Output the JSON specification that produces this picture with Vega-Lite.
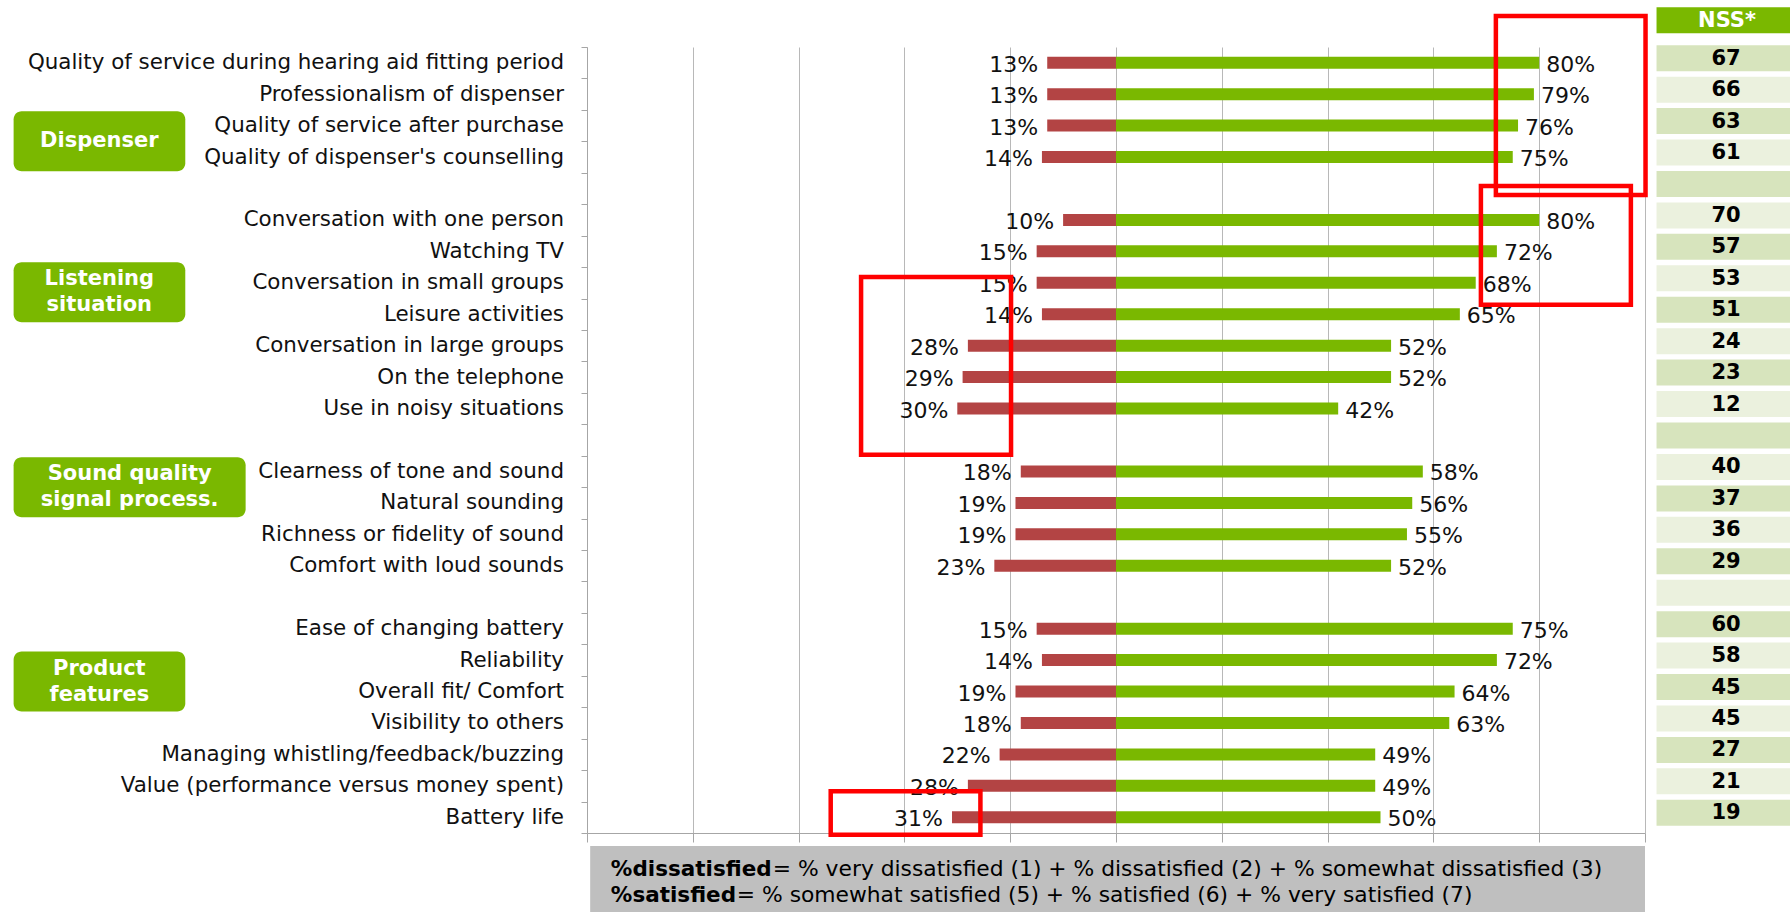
{
  "$schema": "https://vega.github.io/schema/vega-lite/v6.json",
  "width": 1058,
  "height": 786,
  "autosize": {"type": "none"},
  "padding": {"left": 587, "top": 47, "right": 145, "bottom": 79},
  "background": "white",
  "config": {"view": {"stroke": null}, "font": "DejaVu Sans"},
  "datasets": {
    "rows": [
      {"item": "Quality of service during hearing aid fitting period", "dissatisfied": 0.13, "satisfied": 0.80, "nss": 67},
      {"item": "Professionalism of dispenser", "dissatisfied": 0.13, "satisfied": 0.79, "nss": 66},
      {"item": "Quality of service after purchase", "dissatisfied": 0.13, "satisfied": 0.76, "nss": 63},
      {"item": "Quality of dispenser's counselling", "dissatisfied": 0.14, "satisfied": 0.75, "nss": 61},
      {"item": "gap1"},
      {"item": "Conversation with one person", "dissatisfied": 0.10, "satisfied": 0.80, "nss": 70},
      {"item": "Watching TV", "dissatisfied": 0.15, "satisfied": 0.72, "nss": 57},
      {"item": "Conversation in small groups", "dissatisfied": 0.15, "satisfied": 0.68, "nss": 53},
      {"item": "Leisure activities", "dissatisfied": 0.14, "satisfied": 0.65, "nss": 51},
      {"item": "Conversation in large groups", "dissatisfied": 0.28, "satisfied": 0.52, "nss": 24},
      {"item": "On the telephone", "dissatisfied": 0.29, "satisfied": 0.52, "nss": 23},
      {"item": "Use in noisy situations", "dissatisfied": 0.30, "satisfied": 0.42, "nss": 12},
      {"item": "gap2"},
      {"item": "Clearness of tone and sound", "dissatisfied": 0.18, "satisfied": 0.58, "nss": 40},
      {"item": "Natural sounding", "dissatisfied": 0.19, "satisfied": 0.56, "nss": 37},
      {"item": "Richness or fidelity of sound", "dissatisfied": 0.19, "satisfied": 0.55, "nss": 36},
      {"item": "Comfort with loud sounds", "dissatisfied": 0.23, "satisfied": 0.52, "nss": 29},
      {"item": "gap3"},
      {"item": "Ease of changing battery", "dissatisfied": 0.15, "satisfied": 0.75, "nss": 60},
      {"item": "Reliability", "dissatisfied": 0.14, "satisfied": 0.72, "nss": 58},
      {"item": "Overall fit/ Comfort", "dissatisfied": 0.19, "satisfied": 0.64, "nss": 45},
      {"item": "Visibility to others", "dissatisfied": 0.18, "satisfied": 0.63, "nss": 45},
      {"item": "Managing whistling/feedback/buzzing", "dissatisfied": 0.22, "satisfied": 0.49, "nss": 27},
      {"item": "Value (performance versus money spent)", "dissatisfied": 0.28, "satisfied": 0.49, "nss": 21},
      {"item": "Battery life", "dissatisfied": 0.31, "satisfied": 0.50, "nss": 19}
    ],
    "groups": [
      {"item": "Quality of service after purchase", "group": "Dispenser", "lines": ["Dispenser"]},
      {"item": "Conversation in small groups", "group": "Listening situation", "lines": ["Listening", "situation"]},
      {"item": "Clearness of tone and sound", "group": "Sound quality signal process.", "lines": ["Sound quality", "signal process."]},
      {"item": "Reliability", "group": "Product features", "lines": ["Product", "features"]}
    ]
  },
  "data": {"name": "rows"},
  "encoding": {
    "y": {
      "field": "item",
      "type": "nominal",
      "scale": {
        "type": "band",
        "paddingInner": 0,
        "paddingOuter": 0,
        "domain": ["Quality of service during hearing aid fitting period", "Professionalism of dispenser", "Quality of service after purchase", "Quality of dispenser's counselling", "gap1", "Conversation with one person", "Watching TV", "Conversation in small groups", "Leisure activities", "Conversation in large groups", "On the telephone", "Use in noisy situations", "gap2", "Clearness of tone and sound", "Natural sounding", "Richness or fidelity of sound", "Comfort with loud sounds", "gap3", "Ease of changing battery", "Reliability", "Overall fit/ Comfort", "Visibility to others", "Managing whistling/feedback/buzzing", "Value (performance versus money spent)", "Battery life"]
      },
      "axis": {
        "title": null,
        "labelExpr": "isString(datum.value) && indexof(datum.value, 'gap') === 0 ? '' : datum.value",
        "labelFontSize": 21.4,
        "labelColor": "#111111",
        "labelPadding": 17.5,
        "labelLimit": 800,
        "tickBand": "extent",
        "tickSize": 6,
        "tickColor": "#a6a6a6",
        "domainColor": "#a6a6a6",
        "grid": false
      }
    }
  },
  "layer": [
    {
      "mark": {"type": "bar", "color": "#b34444", "size": 12},
      "encoding": {
        "x": {"field": "dissatisfied", "type": "quantitative", "scale": {"domain": [-1, 1], "reverse": true}, "axis": null}
      }
    },
    {
      "mark": {"type": "text", "align": "right", "baseline": "middle", "dx": -9, "dy": 2, "fontSize": 22, "color": "#111111"},
      "encoding": {
        "x": {"field": "dissatisfied", "type": "quantitative", "scale": {"domain": [-1, 1], "reverse": true}, "axis": null},
        "text": {"field": "dissatisfied", "type": "quantitative", "format": ".0%"}
      }
    },
    {
      "mark": {"type": "bar", "color": "#7ab800", "size": 12},
      "encoding": {
        "x": {
          "field": "satisfied",
          "type": "quantitative",
          "scale": {"domain": [-1, 1]},
          "axis": {
            "orient": "bottom",
            "title": null,
            "labels": false,
            "values": [-1, -0.8, -0.6, -0.4, -0.2, 0, 0.2, 0.4, 0.6, 0.8, 1],
            "grid": true,
            "gridColor": "#b8b8b8",
            "domainColor": "#a6a6a6",
            "tickColor": "#a6a6a6",
            "tickSize": 9
          }
        }
      }
    },
    {
      "mark": {"type": "text", "align": "left", "baseline": "middle", "dx": 7, "dy": 2, "fontSize": 22, "color": "#111111"},
      "encoding": {
        "x": {"field": "satisfied", "type": "quantitative", "scale": {"domain": [-1, 1]}, "axis": null},
        "text": {"field": "satisfied", "type": "quantitative", "format": ".0%"}
      }
    },
    {
      "mark": {"type": "bar", "size": 26, "yOffset": -4.5},
      "encoding": {
        "x": {"datum": 1.0218, "type": "quantitative", "scale": {"domain": [-1, 1]}, "axis": null},
        "x2": {"datum": 1.3},
        "color": {
          "field": "item",
          "type": "nominal",
          "legend": null,
          "scale": {
            "domain": ["Quality of service during hearing aid fitting period", "Professionalism of dispenser", "Quality of service after purchase", "Quality of dispenser's counselling", "gap1", "Conversation with one person", "Watching TV", "Conversation in small groups", "Leisure activities", "Conversation in large groups", "On the telephone", "Use in noisy situations", "gap2", "Clearness of tone and sound", "Natural sounding", "Richness or fidelity of sound", "Comfort with loud sounds", "gap3", "Ease of changing battery", "Reliability", "Overall fit/ Comfort", "Visibility to others", "Managing whistling/feedback/buzzing", "Value (performance versus money spent)", "Battery life"],
            "range": ["#d7e4bd", "#ebf1de", "#d7e4bd", "#ebf1de", "#d7e4bd", "#ebf1de", "#d7e4bd", "#ebf1de", "#d7e4bd", "#ebf1de", "#d7e4bd", "#ebf1de", "#d7e4bd", "#ebf1de", "#d7e4bd", "#ebf1de", "#d7e4bd", "#ebf1de", "#d7e4bd", "#ebf1de", "#d7e4bd", "#ebf1de", "#d7e4bd", "#ebf1de", "#d7e4bd"]
          }
        }
      }
    },
    {
      "transform": [{"filter": "isValid(datum.nss)"}],
      "mark": {"type": "text", "align": "center", "baseline": "middle", "dy": -4, "fontSize": 21, "fontWeight": "bold", "color": "#000000"},
      "encoding": {
        "x": {"datum": 1.1533, "type": "quantitative", "scale": {"domain": [-1, 1]}, "axis": null},
        "text": {"field": "nss", "type": "quantitative"}
      }
    },
    {
      "data": {"values": [{"item": "Quality of service during hearing aid fitting period"}]},
      "mark": {"type": "bar", "size": 26, "yOffset": -42.4, "color": "#7ab800"},
      "encoding": {
        "x": {"datum": 1.0218, "type": "quantitative", "scale": {"domain": [-1, 1]}, "axis": null},
        "x2": {"datum": 1.3}
      }
    },
    {
      "data": {"values": [{"item": "Quality of service during hearing aid fitting period"}]},
      "mark": {"type": "text", "align": "center", "baseline": "middle", "dy": -42, "fontSize": 21, "fontWeight": "bold", "color": "#ffffff"},
      "encoding": {
        "x": {"datum": 1.155, "type": "quantitative", "scale": {"domain": [-1, 1]}, "axis": null},
        "text": {"value": "NSS*"}
      }
    },
    {
      "data": {"name": "groups"},
      "transform": [{"filter": "datum.group === 'Dispenser'"}],
      "mark": {"type": "bar", "color": "#7ab800", "cornerRadius": 8, "size": 60, "yOffset": 15.7},
      "encoding": {
        "x": {"datum": -2.0839, "type": "quantitative", "scale": {"domain": [-1, 1]}, "axis": null},
        "x2": {"datum": -1.7594}
      }
    },
    {
      "data": {"name": "groups"},
      "transform": [{"filter": "datum.group === 'Listening situation'"}],
      "mark": {"type": "bar", "color": "#7ab800", "cornerRadius": 8, "size": 60, "yOffset": 9.4},
      "encoding": {
        "x": {"datum": -2.0839, "type": "quantitative", "scale": {"domain": [-1, 1]}, "axis": null},
        "x2": {"datum": -1.7594}
      }
    },
    {
      "data": {"name": "groups"},
      "transform": [{"filter": "datum.group === 'Sound quality signal process.'"}],
      "mark": {"type": "bar", "color": "#7ab800", "cornerRadius": 8, "size": 60, "yOffset": 15.7},
      "encoding": {
        "x": {"datum": -2.0839, "type": "quantitative", "scale": {"domain": [-1, 1]}, "axis": null},
        "x2": {"datum": -1.6453}
      }
    },
    {
      "data": {"name": "groups"},
      "transform": [{"filter": "datum.group === 'Product features'"}],
      "mark": {"type": "bar", "color": "#7ab800", "cornerRadius": 8, "size": 60, "yOffset": 21.5},
      "encoding": {
        "x": {"datum": -2.0839, "type": "quantitative", "scale": {"domain": [-1, 1]}, "axis": null},
        "x2": {"datum": -1.7594}
      }
    },
    {
      "data": {"name": "groups"},
      "transform": [{"filter": "datum.group === 'Dispenser'"}],
      "mark": {"type": "text", "align": "center", "baseline": "middle", "dy": 15.7, "fontSize": 21, "fontWeight": "bold", "color": "#ffffff", "lineHeight": 26},
      "encoding": {
        "x": {"datum": -1.9219, "type": "quantitative", "scale": {"domain": [-1, 1]}, "axis": null},
        "text": {"field": "lines", "type": "nominal"}
      }
    },
    {
      "data": {"name": "groups"},
      "transform": [{"filter": "datum.group === 'Listening situation'"}],
      "mark": {"type": "text", "align": "center", "baseline": "middle", "dy": -3.6, "fontSize": 21, "fontWeight": "bold", "color": "#ffffff", "lineHeight": 26},
      "encoding": {
        "x": {"datum": -1.9219, "type": "quantitative", "scale": {"domain": [-1, 1]}, "axis": null},
        "text": {"field": "lines", "type": "nominal"}
      }
    },
    {
      "data": {"name": "groups"},
      "transform": [{"filter": "datum.group === 'Sound quality signal process.'"}],
      "mark": {"type": "text", "align": "center", "baseline": "middle", "dy": 2.7, "fontSize": 21, "fontWeight": "bold", "color": "#ffffff", "lineHeight": 26},
      "encoding": {
        "x": {"datum": -1.8645, "type": "quantitative", "scale": {"domain": [-1, 1]}, "axis": null},
        "text": {"field": "lines", "type": "nominal"}
      }
    },
    {
      "data": {"name": "groups"},
      "transform": [{"filter": "datum.group === 'Product features'"}],
      "mark": {"type": "text", "align": "center", "baseline": "middle", "dy": 8.5, "fontSize": 21, "fontWeight": "bold", "color": "#ffffff", "lineHeight": 26},
      "encoding": {
        "x": {"datum": -1.9219, "type": "quantitative", "scale": {"domain": [-1, 1]}, "axis": null},
        "text": {"field": "lines", "type": "nominal"}
      }
    },
    {
      "data": {"values": [{"item": "Professionalism of dispenser"}]},
      "mark": {"type": "bar", "size": 179, "yOffset": 11.3, "fill": "transparent", "stroke": "#ff0000", "strokeWidth": 4.5},
      "encoding": {
        "x": {"datum": 0.7181, "type": "quantitative", "scale": {"domain": [-1, 1]}, "axis": null},
        "x2": {"datum": 1.001}
      }
    },
    {
      "data": {"values": [{"item": "Watching TV"}]},
      "mark": {"type": "bar", "size": 118.7, "yOffset": -6.0, "fill": "transparent", "stroke": "#ff0000", "strokeWidth": 4.5},
      "encoding": {
        "x": {"datum": 0.6898, "type": "quantitative", "scale": {"domain": [-1, 1]}, "axis": null},
        "x2": {"datum": 0.9733}
      }
    },
    {
      "data": {"values": [{"item": "On the telephone"}]},
      "mark": {"type": "bar", "size": 177.7, "yOffset": -11.2, "fill": "transparent", "stroke": "#ff0000", "strokeWidth": 4.5},
      "encoding": {
        "x": {"datum": -0.4819, "type": "quantitative", "scale": {"domain": [-1, 1]}, "axis": null},
        "x2": {"datum": -0.1984}
      }
    },
    {
      "data": {"values": [{"item": "Battery life"}]},
      "mark": {"type": "bar", "size": 43.4, "yOffset": -4.3, "fill": "transparent", "stroke": "#ff0000", "strokeWidth": 4.5},
      "encoding": {
        "x": {"datum": -0.5393, "type": "quantitative", "scale": {"domain": [-1, 1]}, "axis": null},
        "x2": {"datum": -0.2563}
      }
    },
    {
      "data": {"values": [{"item": "Battery life"}]},
      "mark": {"type": "bar", "size": 69, "yOffset": 63.3, "color": "#bfbfbf"},
      "encoding": {
        "x": {"datum": -0.994, "type": "quantitative", "scale": {"domain": [-1, 1]}, "axis": null},
        "x2": {"datum": 1.0}
      }
    },
    {
      "data": {"values": [{"item": "Battery life"}]},
      "mark": {"type": "text", "align": "left", "baseline": "alphabetic", "dy": 58.7, "fontSize": 21.5, "fontWeight": "bold", "color": "#000000"},
      "encoding": {
        "x": {"datum": -0.9549, "type": "quantitative", "scale": {"domain": [-1, 1]}, "axis": null},
        "text": {"value": "%dissatisfied"}
      }
    },
    {
      "data": {"values": [{"item": "Battery life"}]},
      "mark": {"type": "text", "align": "left", "baseline": "alphabetic", "dy": 58.7, "fontSize": 21.8, "color": "#000000"},
      "encoding": {
        "x": {"datum": -0.6488, "type": "quantitative", "scale": {"domain": [-1, 1]}, "axis": null},
        "text": {"value": "= % very dissatisfied (1) + % dissatisfied (2) + % somewhat dissatisfied (3)"}
      }
    },
    {
      "data": {"values": [{"item": "Battery life"}]},
      "mark": {"type": "text", "align": "left", "baseline": "alphabetic", "dy": 84.4, "fontSize": 21.5, "fontWeight": "bold", "color": "#000000"},
      "encoding": {
        "x": {"datum": -0.9549, "type": "quantitative", "scale": {"domain": [-1, 1]}, "axis": null},
        "text": {"value": "%satisfied"}
      }
    },
    {
      "data": {"values": [{"item": "Battery life"}]},
      "mark": {"type": "text", "align": "left", "baseline": "alphabetic", "dy": 84.4, "fontSize": 21.8, "color": "#000000"},
      "encoding": {
        "x": {"datum": -0.7168, "type": "quantitative", "scale": {"domain": [-1, 1]}, "axis": null},
        "text": {"value": "= % somewhat satisfied (5) + % satisfied (6) + % very satisfied (7)"}
      }
    }
  ],
  "resolve": {"scale": {"x": "independent"}}
}
